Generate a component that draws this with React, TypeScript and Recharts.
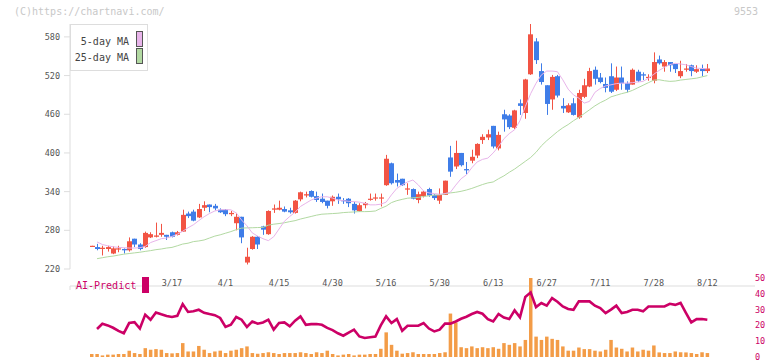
import { Bar, ComposedChart, Line, XAxis, YAxis } from "recharts"

const dates = [
  "2/21", "2/25", "2/26", "2/27", "2/28",
  "3/3", "3/4", "3/5", "3/6", "3/7", "3/10", "3/11", "3/12", "3/13", "3/14",
  "3/17", "3/18", "3/19", "3/21", "3/24", "3/25", "3/26", "3/27", "3/28", "3/31",
  "4/1", "4/2", "4/3", "4/4", "4/7", "4/8", "4/9", "4/10", "4/11", "4/14",
  "4/15", "4/16", "4/17", "4/18", "4/21", "4/22", "4/23", "4/24", "4/25", "4/28",
  "4/30", "5/1", "5/2", "5/7", "5/8", "5/9", "5/12", "5/13", "5/14", "5/15",
  "5/16", "5/19", "5/20", "5/21", "5/22", "5/23", "5/26", "5/27", "5/28", "5/29",
  "5/30", "6/2", "6/3", "6/4", "6/5", "6/6", "6/9", "6/10", "6/11", "6/12",
  "6/13", "6/16", "6/17", "6/18", "6/19", "6/20", "6/23", "6/24", "6/25", "6/26",
  "6/27", "6/30", "7/1", "7/2", "7/3", "7/4", "7/7", "7/8", "7/9", "7/10",
  "7/11", "7/14", "7/15", "7/16", "7/17", "7/18", "7/22", "7/23", "7/24", "7/25",
  "7/28", "7/29", "7/30", "7/31", "8/1", "8/4", "8/5", "8/6", "8/7", "8/8",
  "8/12",
]

const opens = [
  255, 254, 251, 251, 244, 251, 251, 249, 267, 258, 254, 269, 270, 273, 273, 277, 273, 278, 306, 309,
  300, 315, 320, 318, 312, 312, 305, 291, 301, 230, 251, 270, 286, 274, 312, 312, 313, 311, 307, 328,
  334, 341, 333, 329, 326, 325, 332, 327, 329, 321, 310, 319, 328, 330, 330, 350, 384, 358, 360, 344,
  344, 327, 333, 344, 335, 326, 335, 393, 379, 400, 375, 388, 396, 420, 424, 442, 407, 460, 458, 439,
  477, 462, 522, 573, 527, 505, 483, 519, 473, 463, 477, 455, 487, 503, 529, 517, 507, 519, 498, 517,
  508, 506, 526, 522, 517, 512, 545, 534, 541, 538, 519, 529, 536, 526, 531, 527,
]
const highs = [
  256, 259, 256, 256, 255, 256, 252, 269, 267, 260, 278, 277, 292, 290, 273, 278, 279, 312, 309, 312,
  321, 325, 320, 321, 314, 313, 310, 307, 301, 253, 271, 271, 287, 311, 320, 326, 317, 315, 327, 340,
  340, 342, 340, 337, 326, 334, 337, 330, 330, 324, 322, 324, 337, 337, 337, 397, 385, 368, 360, 353,
  345, 340, 341, 346, 336, 345, 357, 411, 419, 400, 386, 405, 415, 429, 436, 442, 433, 467, 460, 467,
  483, 515, 600, 578, 539, 505, 521, 521, 485, 477, 485, 498, 515, 532, 534, 524, 517, 539, 534, 534,
  511, 531, 529, 525, 522, 556, 551, 544, 541, 538, 543, 538, 537, 536, 537, 538,
]
const lows = [
  255, 249, 241, 247, 243, 246, 244, 247, 254, 249, 253, 268, 269, 270, 265, 269, 272, 278, 299, 294,
  299, 310, 308, 311, 307, 302, 302, 280, 260, 227, 250, 251, 273, 273, 307, 311, 308, 306, 306, 325,
  331, 331, 324, 322, 314, 318, 321, 321, 316, 306, 309, 314, 326, 326, 317, 349, 351, 348, 349, 335,
  328, 322, 331, 332, 327, 321, 335, 363, 375, 379, 367, 384, 392, 414, 420, 407, 404, 433, 437, 437,
  459, 453, 521, 538, 506, 459, 467, 486, 462, 462, 458, 453, 485, 502, 506, 508, 494, 493, 496, 498,
  494, 506, 510, 513, 512, 508, 537, 526, 526, 524, 516, 526, 519, 524, 519, 524,
]
const closes = [
  256, 251, 253, 254, 252, 252, 249, 263, 258, 251, 276, 274, 272, 276, 270, 270, 277, 304, 302, 295,
  313, 319, 316, 314, 308, 305, 307, 301, 269, 239, 270, 258, 281, 310, 314, 315, 309, 308, 326, 339,
  336, 332, 327, 324, 318, 332, 328, 325, 322, 311, 319, 322, 329, 331, 331, 391, 353, 354, 350, 345,
  329, 336, 340, 334, 330, 335, 357, 371, 400, 381, 373, 394, 414, 425, 429, 410, 428, 452, 440, 466,
  473, 514, 584, 544, 510, 476, 518, 489, 469, 474, 459, 493, 505, 527, 515, 510, 501, 495, 517, 508,
  498, 529, 512, 520, 518, 541, 539, 541, 536, 530, 527, 531, 527, 530, 527, 531,
]

const ma5 = [
  null, 262, 258, 256, 254.5, 253.5, 253, 252.5, 252.5, 253, 255, 261, 264, 267, 268, 270.5, 274, 278.5, 284, 288.6,
  295, 301, 306, 310, 311.8, 312, 311.8, 307, 296, 287, 276, 271, 267, 264, 270, 282, 294, 301.5, 308, 317,
  322, 327, 330, 332, 332, 330, 327, 326, 325, 324.5, 323.7, 322, 319.5, 319.5, 320.5, 323.7, 335, 345, 350.5, 355,
  358, 350.5, 341, 338, 337, 336, 337, 339, 350, 360, 366, 377, 386, 390, 392, 400, 410, 422, 430, 436,
  450, 472, 492, 508, 521, 527, 527, 526, 513.5, 499, 490, 485, 477.3, 480, 494, 500, 504, 505.7, 507.5, 508.3,
  508.3, 509, 510, 511, 516, 522, 528, 533, 537, 539, 538, 536.7, 534, 531.5, 531, 530.5,
]
const ma25 = [
  null, 236, 237.5, 239, 240, 241.5, 243, 244, 245, 246, 247.3, 248.5, 250, 251, 252.5, 253.5, 256, 258.7, 260, 262.5,
  263.5, 265, 268, 271, 273, 275.5, 278, 281, 283.4, 283.8, 284, 284.3, 284.5, 288, 289.5, 290.5, 291.7, 293.5, 295, 297.5,
  299.5, 301.5, 303.5, 305, 305.5, 306, 306.5, 307.5, 308, 308.5, 309, 309, 309.2, 310, 314, 317.5, 323, 326, 328, 329.8,
  330.5, 331, 332.5, 333.5, 334.5, 335, 336.5, 338, 339, 340.5, 342.5, 345, 348, 351, 353.5, 355, 360, 364.4, 370, 375,
  381, 387, 393, 401, 411, 419, 426, 433, 439, 444, 450, 455.2, 461, 467, 473, 478, 482, 487, 489.5, 492,
  494, 497, 501, 505, 509, 513, 513.5, 512, 511, 511.5, 513, 514, 515, 516, 518, 520,
]

const aiPredict = [
  null, 17.7, 21, 20, 18.5, 16.5, 15, 21.5, 22, 18, 26.8, 23.6, 28.2, 27, 26, 25.3, 26.1, 33.5, 28.5, 28.9,
  29.9, 28, 27.2, 26.5, 24.7, 19, 20.4, 25.3, 23.6, 19, 22.5, 21.1, 21.9, 23.6, 17.3, 21.5, 21.9, 19.4, 23, 25.7,
  20.4, 20.8, 20.9, 20.4, 18.4, 17, 15, 13.5, 15.5, 17.3, 13, 12, 12.5, 13, 20, 25.7, 21.5, 24, 16.6, 19.8,
  19.8, 19.8, 21.5, 18, 16.2, 17.3, 21.1, 21.1, 22.5, 24.2, 25.5, 27.2, 28.5, 27.4, 24, 22.5, 27.2, 25, 24, 29.5,
  25.1, 38, 40.9, 31.6, 34.2, 32.5, 37.3, 35, 32, 30.4, 29.9, 35.2, 35.2, 35.2, 32.5, 31, 27.8, 30, 32.5, 27.8,
  28.5, 29.9, 29.9, 28.9, 32, 32, 32, 32, 33.7, 33, 34.2, 28, 21.9, 24, 24, 23.6,
]
const volume = [
  1.9, 1.9, 1, 1.5, 1.5, 1.9, 1.9, 4, 2.5, 1.9, 5.6, 4.6, 5, 4.6, 2.5, 2.3, 2.5, 8.8, 3.5, 3.5,
  7, 4.6, 2.5, 3.5, 4, 2.5, 4, 4.6, 5.6, 6.7, 2.5, 2.1, 2.5, 3, 2.5, 1.9, 2.5, 2.5, 2.5, 3,
  2.5, 1.9, 3, 2.5, 4, 1.9, 1, 1.5, 1.9, 1, 1.5, 1.5, 1.9, 1.9, 5.2, 15.6, 7.7, 4, 2.1, 2.5,
  3, 1.9, 1.9, 1.9, 1.9, 2.5, 3, 27.5, 21.9, 6.2, 5.6, 6.7, 5.6, 6.2, 5.6, 6.2, 5.2, 8.8, 7.7, 8.8,
  6.7, 10.8, 50, 12.9, 10.8, 12.9, 11.5, 10.8, 6.7, 4, 4, 6, 5, 5, 4, 3.5, 4.6, 10.8, 6, 5.2,
  3.5, 6, 3.5, 4.6, 4, 7.3, 2.9, 2.5, 2.5, 3.5, 3, 2.9, 2.5, 1.9, 3, 2.5,
]

const dateTicks = ["3/17", "4/1", "4/15", "4/30", "5/16", "5/30", "6/13", "6/27", "7/11", "7/28", "8/12"]
const priceTicks = [220, 280, 340, 400, 460, 520, 580]
const predictTicks = [0, 10, 20, 30, 40, 50]
const gridTicks = [0, 1, 2, 3, 4, 5, 6, 7, 8, 9, 10, 11]

const MONO = "'DejaVu Sans Mono', monospace"
const UP = "#f25444"
const DOWN = "#3f7de8"
const PINK = "#e8b4ea"
const GREEN = "#b2d9a2"
const AI = "#cc0066"
const AXIS = "#dddddd"

const priceRows = dates.map((date, i) => ({
  date,
  open: opens[i],
  high: highs[i],
  low: lows[i],
  close: closes[i],
  ma5: ma5[i],
  ma25: ma25[i],
}))

const lowerRows = dates.map((date, i) => ({ date, ai: aiPredict[i], vol: volume[i] }))

function Candle(props: any) {
  const { x, y, width, height, payload } = props
  const { open, close, high, low } = payload
  const k = height / (high - low)
  const yOf = (v: number) => y + (high - v) * k
  const color = close >= open ? UP : DOWN
  const cx = Math.round(x + width / 2) + 0.5
  const top = yOf(Math.max(open, close))
  const bot = yOf(Math.min(open, close))
  return (
    <g>
      <line x1={cx} x2={cx} y1={y} y2={y + height} stroke={color} strokeWidth={1} />
      <rect x={cx - 2.5} y={top} width={5} height={Math.max(bot - top, 1.2)} fill={color} />
    </g>
  )
}

const swatch = (bg: string, top: number) => (
  <div
    style={{
      position: "absolute",
      left: 65,
      top,
      width: 5,
      height: 14,
      border: "1px solid #555",
      background: bg,
    }}
  />
)

export default function App() {
  return (
    <div
      style={{
        position: "absolute",
        left: 0,
        top: 0,
        width: 772,
        height: 361,
        background: "#fff",
        fontFamily: MONO,
        overflow: "hidden",
      }}
    >
      <div style={{ position: "absolute", left: 14, top: 6, fontSize: 10, lineHeight: "12px", color: "#c8c8c8" }}>
        (C)https://chartnavi.com/
      </div>
      <div style={{ position: "absolute", left: 734, top: 6, fontSize: 10, lineHeight: "12px", color: "#c8c8c8" }}>
        9553
      </div>

      <div style={{ position: "absolute", left: 0, top: 0 }}>
        <ComposedChart width={772} height={290} data={priceRows} margin={{ top: 24, right: 17, bottom: 0, left: 0 }}>
          <XAxis
            xAxisId="g"
            type="number"
            domain={[0, 11.05]}
            ticks={gridTicks}
            interval={0}
            tick={() => <g />}
            tickSize={4}
            height={4}
            stroke={AXIS}
            allowDataOverflow
          />
          <XAxis
            xAxisId="d"
            dataKey="date"
            ticks={dateTicks}
            interval={0}
            axisLine={false}
            tickLine={false}
            tickSize={0}
            tickMargin={11}
            height={17}
            padding={{ left: 19, right: 45 }}
            tick={{ fontSize: 8.5, fill: "#555", fontFamily: MONO }}
          />
          <YAxis
            domain={[220, 600]}
            ticks={priceTicks}
            interval={0}
            width={70}
            tickSize={6}
            tickMargin={4}
            stroke={AXIS}
            allowDataOverflow
            tick={{ fontSize: 8.5, fill: "#555", fontFamily: MONO }}
          />
          <Bar
            xAxisId="d"
            dataKey={(d: any) => [d.low, d.high]}
            barSize={5}
            shape={(p: any) => <Candle {...p} />}
            isAnimationActive={false}
          />
          <Line xAxisId="d" type="linear" dataKey="ma25" stroke={GREEN} strokeWidth={1} dot={false} isAnimationActive={false} />
          <Line xAxisId="d" type="linear" dataKey="ma5" stroke={PINK} strokeWidth={1} dot={false} isAnimationActive={false} />
        </ComposedChart>
      </div>

      <div style={{ position: "absolute", left: 0, top: 270 }}>
        <ComposedChart width={772} height={91} data={lowerRows} margin={{ top: 8, right: 0, bottom: 4, left: 70 }}>
          <XAxis dataKey="date" hide padding={{ left: 19, right: 45 }} />
          <YAxis
            orientation="right"
            domain={[0, 50]}
            ticks={predictTicks}
            interval={0}
            width={17}
            axisLine={false}
            tickLine={false}
            tickSize={0}
            tickMargin={0}
            tick={{ fontSize: 8.5, fill: AI, fontFamily: MONO }}
          />
          <Bar dataKey="vol" fill="#f39c47" barSize={3.5} isAnimationActive={false} />
          <Line type="linear" dataKey="ai" stroke={AI} strokeWidth={2.6} dot={false} isAnimationActive={false} />
        </ComposedChart>
      </div>

      <div
        style={{
          position: "absolute",
          left: 70,
          top: 24,
          width: 78,
          height: 47,
          boxSizing: "border-box",
          border: `1px solid ${AXIS}`,
          background: "#fff",
          fontSize: 10,
          color: "#444",
        }}
      >
        <div style={{ position: "absolute", right: 18, top: 10, lineHeight: "14px", whiteSpace: "nowrap" }}>5-day MA</div>
        <div style={{ position: "absolute", right: 18, top: 26, lineHeight: "14px", whiteSpace: "nowrap" }}>25-day MA</div>
        {swatch(PINK, 6)}
        {swatch(GREEN, 23)}
      </div>

      <div style={{ position: "absolute", left: 76, top: 279, fontSize: 10, lineHeight: "14px", color: AI }}>AI-Predict</div>
      <div style={{ position: "absolute", left: 142, top: 277, width: 7, height: 16, background: AI }} />
    </div>
  )
}
